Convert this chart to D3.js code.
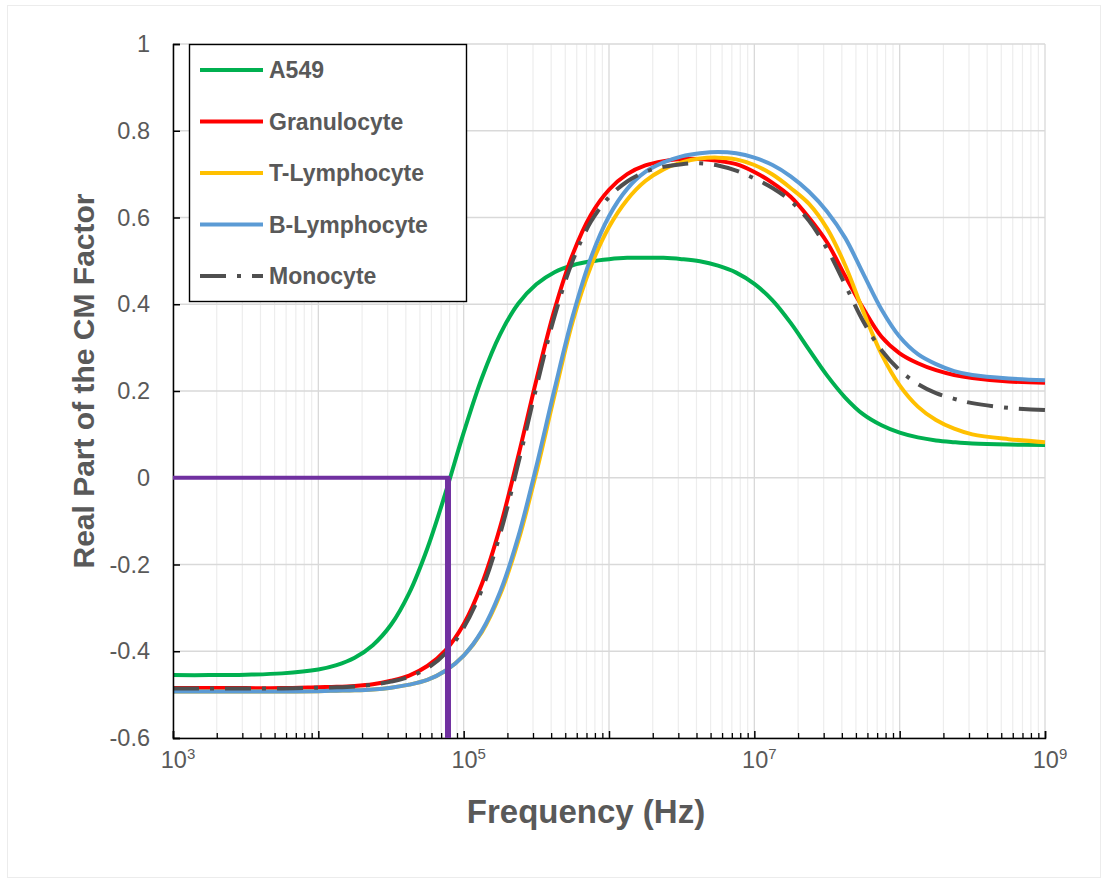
<!DOCTYPE html>
<html><head><meta charset="utf-8">
<script src="https://cdn.jsdelivr.net/npm/d3@7/dist/d3.min.js"></script>
<style>body{margin:0;background:#fff;} svg{display:block;}</style>
</head><body>
<svg id="chart" width="1107" height="884"></svg>
<script>
// ---------- data ----------
const freqs = [1e3, 1.778e3, 3.162e3, 5.623e3, 1e4, 1.334e4, 1.778e4, 2.371e4, 3.162e4, 4.217e4, 5.623e4, 7.499e4, 1e5,
  1.334e5, 1.778e5, 2.371e5, 3.162e5, 4.217e5, 5.623e5, 7.499e5, 1e6, 1.334e6, 1.778e6, 2.371e6, 3.162e6, 4.217e6,
  5.623e6, 7.499e6, 1e7, 1.334e7, 1.778e7, 2.371e7, 3.162e7, 4.217e7, 5.623e7, 7.499e7, 1e8, 1.334e8, 1.778e8,
  2.371e8, 3.162e8, 5.623e8, 1e9];
const a549 = [-0.455,-0.455,-0.454,-0.451,-0.442,-0.432,-0.415,-0.386,-0.339,-0.266,-0.163,-0.035,0.104,
  0.230,0.330,0.401,0.446,0.474,0.490,0.499,0.504,0.507,0.507,0.507,0.504,0.499,
  0.489,0.473,0.447,0.409,0.357,0.296,0.236,0.185,0.146,0.121,0.104,0.093,0.086,
  0.082,0.079,0.0765,0.0755];
const granulocyte = [-0.485,-0.485,-0.485,-0.485,-0.483,-0.482,-0.480,-0.476,-0.468,-0.456,-0.434,-0.398,-0.338,
  -0.245,-0.115,0.049,0.225,0.387,0.515,0.606,0.664,0.700,0.720,0.730,0.735,0.735,
  0.731,0.723,0.705,0.680,0.648,0.600,0.543,0.465,0.390,0.325,0.287,0.264,0.248,
  0.237,0.230,0.222,0.219];
const tLymphocyte = [-0.493,-0.493,-0.493,-0.493,-0.492,-0.491,-0.490,-0.488,-0.484,-0.477,-0.466,-0.445,-0.410,
  -0.356,-0.270,-0.147,0.012,0.190,0.360,0.487,0.578,0.641,0.684,0.711,0.727,0.736,
  0.738,0.734,0.721,0.699,0.668,0.632,0.575,0.490,0.383,0.285,0.213,0.164,0.133,
  0.113,0.100,0.089,0.082];
const bLymphocyte = [-0.493,-0.493,-0.493,-0.493,-0.492,-0.491,-0.490,-0.488,-0.484,-0.477,-0.466,-0.445,-0.410,
  -0.353,-0.264,-0.137,0.026,0.204,0.372,0.507,0.603,0.666,0.705,0.727,0.741,0.748,
  0.751,0.748,0.738,0.721,0.695,0.660,0.614,0.553,0.470,0.388,0.325,0.285,0.262,
  0.246,0.237,0.229,0.225];
const monocyte = [-0.486,-0.486,-0.486,-0.486,-0.484,-0.483,-0.481,-0.477,-0.470,-0.459,-0.439,-0.405,-0.346,
  -0.258,-0.131,0.032,0.208,0.372,0.500,0.590,0.647,0.683,0.705,0.717,0.723,0.725,
  0.720,0.708,0.690,0.668,0.638,0.593,0.528,0.445,0.360,0.294,0.248,0.216,0.195,
  0.182,0.172,0.161,0.156];
const crossFreqs = [1e3, 7.8e4, 7.8e4];
const crossVals = [0, 0, -0.6];
const seriesNames = ["A549", "Granulocyte", "T-Lymphocyte", "B-Lymphocyte", "Monocyte"];
const yTicks = [-0.6, -0.4, -0.2, 0, 0.2, 0.4, 0.6, 0.8, 1];
const yTickLabels = ["-0.6", "-0.4", "-0.2", "0", "0.2", "0.4", "0.6", "0.8", "1"];
const xLabelExps = [3, 5, 7, 9];
const xTitle = "Frequency (Hz)";
const yTitle = "Real Part of the CM Factor";

// ---------- styles ----------
const seriesValues = [a549, granulocyte, tLymphocyte, bLymphocyte, monocyte];
const colors = ["#00B050", "#FF0000", "#FFC000", "#5B9BD5", "#4F4F4F"];
const dashes = [null, null, null, null, "26,11,4,11"];
const FONT = "Arial, 'Liberation Sans', sans-serif";
const TXT = "#595959";

const svg = d3.select("#chart");
svg.append("rect").attr("x", 7.5).attr("y", 5.5).attr("width", 1093).attr("height", 872)
  .attr("fill", "#fff").attr("stroke", "#ececec").attr("stroke-width", 1);

const x = d3.scaleLog().domain([1e3, 1e9]).range([173, 1045]);
const y = d3.scaleLinear().domain([-0.6, 1]).range([738, 44]);

// minor & major x values
const minorX = [], majorX = [];
for (let e = 3; e < 9; e++) {
  majorX.push(Math.pow(10, e));
  for (let m = 2; m <= 9; m++) minorX.push(m * Math.pow(10, e));
}
majorX.push(1e9);

// gridlines
const grid = svg.append("g");
grid.selectAll(".vminor").data(minorX).join("line")
  .attr("x1", d => x(d)).attr("x2", d => x(d)).attr("y1", y(1)).attr("y2", y(-0.6))
  .attr("stroke", "#ededed").attr("stroke-width", 1.2);
grid.selectAll(".vmajor").data(majorX).join("line")
  .attr("x1", d => x(d)).attr("x2", d => x(d)).attr("y1", y(1)).attr("y2", y(-0.6))
  .attr("stroke", "#d9d9d9").attr("stroke-width", 1.3);
grid.selectAll(".h").data(yTicks).join("line")
  .attr("x1", x(1e3)).attr("x2", x(1e9)).attr("y1", d => y(d)).attr("y2", d => y(d))
  .attr("stroke", "#d9d9d9").attr("stroke-width", 1.3);

// series
const line = d3.line().x(d => x(d[0])).y(d => y(d[1])).curve(d3.curveCatmullRom.alpha(0.5));
seriesValues.forEach((vals, i) => {
  svg.append("path")
    .datum(freqs.map((f, j) => [f, vals[j]]))
    .attr("d", line).attr("fill", "none")
    .attr("stroke", colors[i]).attr("stroke-width", 4)
    .attr("stroke-dasharray", dashes[i])
    .attr("stroke-linejoin", "round");
});

// axes
const yAxis = d3.axisLeft(y).tickValues(yTicks).tickSize(-7).tickPadding(23)
  .tickFormat((d, i) => yTickLabels[i]);
const gy = svg.append("g").attr("transform", `translate(${x(1e3)},0)`).call(yAxis);
gy.select(".domain").attr("stroke", "#000").attr("stroke-width", 1.5);
gy.selectAll(".tick line").attr("stroke", "#000").attr("stroke-width", 1.5);
gy.selectAll(".tick text").attr("font-family", FONT).attr("font-size", 23.5).attr("fill", TXT);

const gxMinor = svg.append("g").attr("transform", `translate(0,${y(-0.6)})`)
  .call(d3.axisBottom(x).tickValues(minorX).tickSize(-5).tickFormat(""));
gxMinor.select(".domain").remove();
gxMinor.selectAll(".tick line").attr("stroke", "#000").attr("stroke-width", 1.3);
const gx = svg.append("g").attr("transform", `translate(0,${y(-0.6)})`)
  .call(d3.axisBottom(x).tickValues(majorX).tickSize(-7).tickFormat(""));
gx.select(".domain").attr("stroke", "#000").attr("stroke-width", 1.5);
gx.selectAll(".tick line").attr("stroke", "#000").attr("stroke-width", 1.5);

// x tick labels with superscripts
const xl = svg.append("g");
xLabelExps.forEach(e => {
  const t = xl.append("text").attr("x", x(Math.pow(10, e)) + 5).attr("y", 768)
    .attr("text-anchor", "middle").attr("font-family", FONT).attr("font-size", 23.5).attr("fill", TXT);
  t.append("tspan").text("10");
  t.append("tspan").attr("dy", -9).attr("font-size", 15).text(String(e));
});

// crossover marker (purple)
const cross = crossFreqs.map((f, i) => [f, crossVals[i]]);
svg.append("line").attr("x1", x(cross[0][0])).attr("x2", x(cross[1][0]) + 2)
  .attr("y1", y(cross[0][1])).attr("y2", y(cross[1][1]))
  .attr("stroke", "#7030A0").attr("stroke-width", 4);
svg.append("line").attr("x1", x(cross[1][0])).attr("x2", x(cross[2][0]))
  .attr("y1", y(cross[1][1])).attr("y2", y(cross[2][1]))
  .attr("stroke", "#7030A0").attr("stroke-width", 6);

// axis titles
svg.append("text").attr("x", 586).attr("y", 823).attr("text-anchor", "middle")
  .attr("font-family", FONT).attr("font-weight", "bold").attr("font-size", 33).attr("fill", TXT)
  .text(xTitle);
svg.append("text").attr("transform", "translate(94,381) rotate(-90)").attr("text-anchor", "middle")
  .attr("font-family", FONT).attr("font-weight", "bold").attr("font-size", 30).attr("fill", TXT)
  .text(yTitle);

// legend
const lg = svg.append("g");
lg.append("rect").attr("x", 189.5).attr("y", 44.5).attr("width", 277).attr("height", 257)
  .attr("fill", "#fff").attr("stroke", "#000").attr("stroke-width", 1.4);
const rowY = [70, 121.5, 173, 224.5, 276];
seriesNames.forEach((name, i) => {
  lg.append("line").attr("x1", 200).attr("x2", 263).attr("y1", rowY[i]).attr("y2", rowY[i])
    .attr("stroke", colors[i]).attr("stroke-width", 4).attr("stroke-dasharray", dashes[i]);
  lg.append("text").attr("x", 269).attr("y", rowY[i]).attr("dy", "0.35em")
    .attr("font-family", FONT).attr("font-weight", "bold").attr("font-size", 23).attr("fill", TXT)
    .text(name);
});
</script>
</body></html>
